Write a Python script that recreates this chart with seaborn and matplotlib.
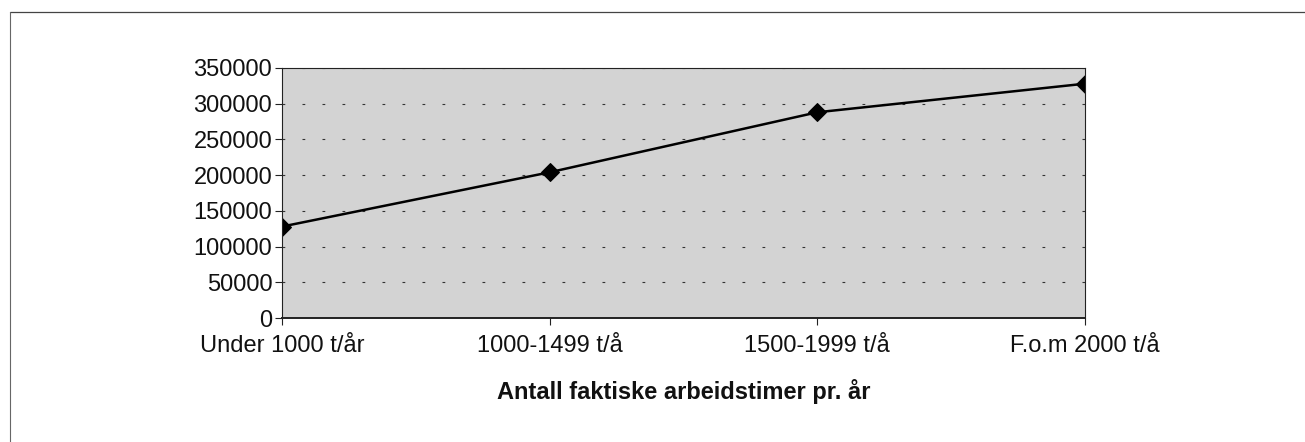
import numpy as np
import pandas as pd
import seaborn as sns
import matplotlib.pyplot as plt
from matplotlib.lines import Line2D

# data
categories = ["Under 1000 t/år", "1000-1499 t/å", "1500-1999 t/å", "F.o.m 2000 t/å"]
values = [128000, 204000, 288000, 328000]
y_ticks = [0, 50000, 100000, 150000, 200000, 250000, 300000, 350000]

data = pd.DataFrame({"kategori": categories, "verdi": values})

sns.set_style("white")
plt.rcParams['font.family'] = ['Liberation Sans', 'DejaVu Sans']

fig = plt.figure(figsize=(13.05, 4.42), dpi=100)
ax = fig.add_axes([0.2161, 0.2805, 0.6153, 0.5657])

# frame lines round the chart (top and left only, as in the scan)
fig.lines.append(Line2D([0.008, 1.0], [0.973, 0.973], transform=fig.transFigure,
                        color="#444444", linewidth=0.9))
fig.lines.append(Line2D([0.008, 0.008], [0.0, 0.973], transform=fig.transFigure,
                        color="#666666", linewidth=0.8))

ax.set_facecolor("#d3d3d3")
x = np.arange(len(categories))
sns.lineplot(x=x, y=data["verdi"], ax=ax, color="black", linewidth=1.8,
             marker="D", markersize=9.5, markeredgecolor="black")

ax.set_xlim(0, len(categories) - 1)
ax.set_ylim(0, 350000)
ax.set_yticks(y_ticks)
ax.set_yticklabels([str(v) for v in y_ticks])
ax.set_xticks(x)
ax.set_xticklabels(categories)

ax.yaxis.grid(True, color="#333333", linestyle=(0, (2.5, 15.5)), linewidth=0.8)
ax.xaxis.grid(False)
ax.set_axisbelow(True)

for s in ax.spines.values():
    s.set_color("#222222")
    s.set_linewidth(0.8)
ax.spines["bottom"].set_linewidth(1.4)

ax.tick_params(axis="both", which="both", direction="out", length=5, width=0.8,
               colors="#222222", labelsize=17, labelcolor="#111111",
               left=True, bottom=True)
ax.tick_params(axis="x", pad=7)
ax.tick_params(axis="y", pad=2)

ax.set_ylabel("")
ax.set_xlabel("Antall faktiske arbeidstimer pr. år", fontsize=17,
              fontweight="bold", labelpad=16, color="#111111")

fig.savefig("out.png", dpi=100)
